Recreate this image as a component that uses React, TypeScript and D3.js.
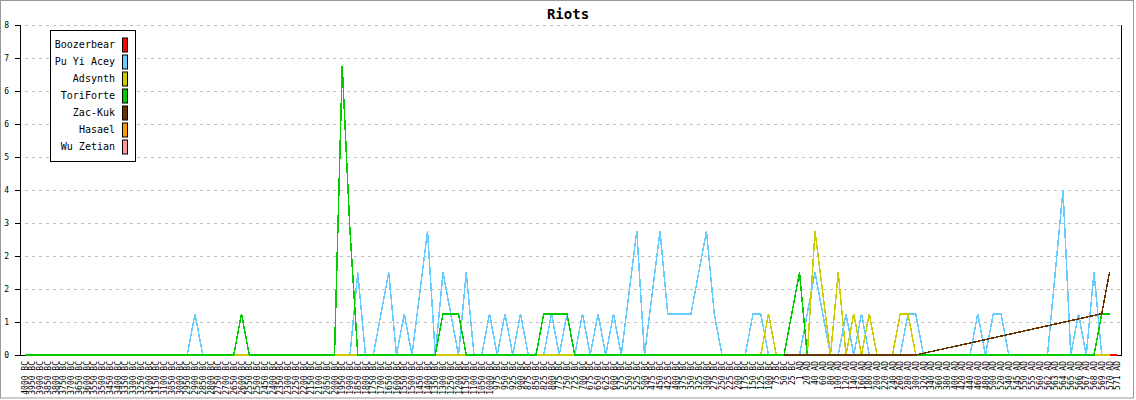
import React from "react";
import * as d3 from "d3";

const categories: string[] = [
  "4000 BC","3950 BC","3900 BC","3850 BC","3800 BC","3750 BC","3700 BC","3650 BC","3600 BC","3550 BC",
  "3500 BC","3450 BC","3400 BC","3350 BC","3300 BC","3250 BC","3200 BC","3150 BC","3100 BC","3050 BC",
  "3000 BC","2950 BC","2900 BC","2850 BC","2800 BC","2750 BC","2700 BC","2650 BC","2600 BC","2550 BC",
  "2500 BC","2450 BC","2400 BC","2350 BC","2300 BC","2250 BC","2200 BC","2150 BC","2100 BC","2050 BC",
  "2000 BC","1950 BC","1900 BC","1850 BC","1800 BC","1750 BC","1700 BC","1650 BC","1600 BC","1550 BC",
  "1500 BC","1450 BC","1400 BC","1350 BC","1300 BC","1250 BC","1200 BC","1150 BC","1100 BC","1050 BC",
  "1000 BC","975 BC","950 BC","925 BC","900 BC","875 BC","850 BC","825 BC","800 BC","775 BC",
  "750 BC","725 BC","700 BC","675 BC","650 BC","625 BC","600 BC","575 BC","550 BC","525 BC",
  "500 BC","475 BC","450 BC","425 BC","400 BC","375 BC","350 BC","325 BC","300 BC","275 BC",
  "250 BC","225 BC","200 BC","175 BC","150 BC","125 BC","100 BC","75 BC","50 BC","25 BC",
  "1 AD","20 AD","40 AD","60 AD","80 AD","100 AD","120 AD","140 AD","160 AD","180 AD",
  "200 AD","220 AD","240 AD","260 AD","280 AD","300 AD","320 AD","340 AD","360 AD","380 AD",
  "400 AD","420 AD","440 AD","460 AD","480 AD","500 AD","520 AD","540 AD","545 AD","550 AD",
  "555 AD","560 AD","562 AD","563 AD","564 AD","565 AD","566 AD","567 AD","568 AD","569 AD",
  "570 AD","571 AD"
];

const N = null;

// index:            0 .. 141
const boozerbear: (number | null)[] = [
  N,N,N,N,N,N,N,N,N,N, N,N,N,N,N,N,N,N,N,N, N,N,N,N,N,N,N,N,N,N, N,N,N,N,N,N,N,N,N,N,
  N,N,N,N,N,N,N,N,N,N, N,N,N,N,N,N,N,N,N,N, N,N,N,N,N,N,N,N,N,N, N,N,N,N,N,N,N,N,N,N,
  N,N,N,N,N,N,N,N,N,N, N,N,N,N,N,N,N,N,N,N, N,N,N,N,N,N,N,N,N,N, N,N,N,N,N,N,N,N,N,N,
  N,N,N,N,N,N,N,N,N,N, N,N,N,N,N,N,N,N,N,N, 0,0
];

const puYiAcey: (number | null)[] = [
  0,0,0,0,0,0,0,0,0,0, 0,0,0,0,0,0,0,0,0,0, 0,0,1,0,0,0,0,0,0,0, 0,0,0,0,0,0,0,0,0,0,
  0,0,0,2,0,0,1,2,0,1, 0,1.5,3,0,2,1,0,2,0,0, 1,0,1,0,1,0,0,0,1,0, 1,0,1,0,1,0,1,0,1.5,3,
  0,1.5,3,1,1,1,1,2,3,1, 0,0,0,0,1,1,0,0,0,0, 0,1,2,1,0,0,1,0,1,0, 0,0,0,0,1,1,0,0,0,0,
  0,0,0,1,0,1,1,0,0,0, 0,0,0,2,4,0,1,0,2,0, 0,N
];

const adsynth: (number | null)[] = [
  0,0,0,0,0,0,0,0,0,0, 0,0,0,0,0,0,0,0,0,0, 0,0,0,0,0,0,0,0,0,0, 0,0,0,0,0,0,0,0,0,0,
  0,0,0,0,0,0,0,0,0,0, 0,0,0,0,0,0,0,0,0,0, 0,0,0,0,0,0,0,0,0,0, 0,0,0,0,0,0,0,0,0,0,
  0,0,0,0,0,0,0,0,0,0, 0,0,0,0,0,0,1,0,0,0, 0,0,3,1.5,0,2,0,1,0,1, 0,0,0,1,1,0,0,0,0,0,
  0,0,0,0,0,0,0,0,0,0, 0,0,0,0,0,0,0,0,0,0, 0,N
];

const toriForte: (number | null)[] = [
  0,0,0,0,0,0,0,0,0,0, 0,0,0,0,0,0,0,0,0,0, 0,0,0,0,0,0,0,0,1,0, 0,0,0,0,0,0,0,0,0,0,
  0,7,3,0,0,0,0,0,0,0, 0,0,0,0,1,1,1,0,0,0, 0,0,0,0,0,0,0,1,1,1, 1,0,0,0,0,0,0,0,0,0,
  0,0,0,0,0,0,0,0,0,0, 0,0,0,0,0,0,0,0,0,1, 2,0,0,0,0,0,0,0,0,0, 0,0,0,0,0,0,0,0,0,0,
  0,0,0,0,0,0,0,0,0,0, 0,0,0,0,0,0,0,0,0,1, 1,N
];

const zacKuk: (number | null)[] = [
  N,N,N,N,N,N,N,N,N,N, N,N,N,N,N,N,N,N,N,N, N,N,N,N,N,N,N,N,N,N, N,N,N,N,N,N,N,N,N,N,
  N,N,N,N,N,N,N,N,N,N, N,N,N,N,N,N,N,N,N,N, N,N,N,N,N,N,N,N,N,N, N,N,N,N,N,N,N,N,N,N,
  N,N,N,N,N,N,N,N,N,N, N,N,N,N,N,N,N,N,0,0, 0,0,0,0,0,0,0,0,0,0, 0,0,0,0,0,0,N,N,N,N,
  N,N,N,N,N,N,N,N,N,N, N,N,N,N,N,N,N,N,N,1, 2,N
];

const hasael: (number | null)[] = categories.map(() => null);
const wuZetian: (number | null)[] = categories.map(() => null);

const seriesNames = ["Boozerbear", "Pu Yi Acey", "Adsynth", "ToriForte", "Zac-Kuk", "Hasael", "Wu Zetian"];
const seriesColors = ["#ff0000", "#66ccff", "#cccc00", "#00cc00", "#663300", "#ff9900", "#ff9999"];
const seriesValues = [boozerbear, puYiAcey, adsynth, toriForte, zacKuk, hasael, wuZetian];

const yTickValues = [0, 0.8, 1.6, 2.4, 3.2, 4, 4.8, 5.6, 6.4, 7.2, 8];
const yTickLabels = ["0", "1", "2", "2", "3", "4", "5", "6", "6", "7", "8"];

const title = "Riots";

const W = 1136;
const H = 400;
const plotLeft = 20;
const plotRight = 1121;
const plotTop = 25;
const plotBottom = 355;
const mono = "'DejaVu Sans Mono', 'Liberation Mono', monospace";

export default function App() {
  const x = d3
    .scalePoint<string>()
    .domain(categories)
    .range([24.5, 24.5 + (categories.length - 1) * 7.75]);
  const y = d3.scaleLinear().domain([0, 8]).range([plotBottom, plotTop]);

  const line = d3
    .line<number | null>()
    .defined((d) => d != null)
    .x((_, i) => x(categories[i]) as number)
    .y((d) => y(d as number));

  // compact out missing points so line joins across gaps
  const makePath = (vals: (number | null)[]) => {
    const pts: [number, number][] = [];
    vals.forEach((v, i) => {
      if (v != null) pts.push([x(categories[i]) as number, y(v)]);
    });
    if (pts.length < 2) return "";
    return d3.line()(pts) || "";
  };
  void line;

  const legendX = 50;
  const legendY = 30;
  const legendW = 85;
  const legendH = 131;

  return (
    <svg
      width={W}
      height={H}
      style={{ position: "absolute", left: 0, top: 0, background: "#fff" }}
    >
      <rect x={0} y={0} width={W} height={H} fill="#fff" />
      <rect x={0.5} y={0.5} width={1133} height={397.5} fill="none" stroke="#999" />
      <text
        x={568}
        y={19}
        textAnchor="middle"
        fontFamily={mono}
        fontWeight="bold"
        fontSize={14}
        fill="#000"
      >
        {title}
      </text>

      {/* grid */}
      {yTickValues.map((v, i) =>
        v === 0 ? null : (
          <line
            key={"g" + i}
            x1={plotLeft + 5}
            x2={plotRight}
            y1={Math.round(y(v)) + 0.5}
            y2={Math.round(y(v)) + 0.5}
            stroke="#c0c0c0"
            strokeDasharray="3,4"
          />
        )
      )}

      {/* axes */}
      <line x1={plotLeft + 0.5} x2={plotLeft + 0.5} y1={plotTop} y2={plotBottom + 1} stroke="#000" />
      <line x1={plotLeft} x2={plotRight + 1} y1={plotBottom + 0.5} y2={plotBottom + 0.5} stroke="#000" />
      <line x1={plotRight + 0.5} x2={plotRight + 0.5} y1={plotTop} y2={plotBottom + 1} stroke="#000" />

      {yTickValues.map((v, i) => (
        <g key={"t" + i}>
          <line
            x1={15}
            x2={plotLeft}
            y1={Math.round(y(v)) + 0.5}
            y2={Math.round(y(v)) + 0.5}
            stroke="#000"
          />
          <text
            x={9}
            y={Math.round(y(v)) + 3}
            textAnchor="end"
            fontFamily={mono}
            fontSize={8}
            fill="#000"
          >
            {yTickLabels[i]}
          </text>
        </g>
      ))}

      {categories.map((c) => {
        const cx = x(c) as number;
        return (
          <text
            key={c}
            transform={`translate(${cx + 3},${361}) rotate(-90)`}
            textAnchor="end"
            fontFamily={mono}
            fontSize={8}
            fill="#000"
          >
            {c}
          </text>
        );
      })}

      {/* series */}
      {seriesValues.map((vals, si) => (
        <path
          key={seriesNames[si]}
          d={makePath(vals)}
          fill="none"
          stroke={seriesColors[si]}
          strokeWidth={1.5}
          shapeRendering="crispEdges"
        />
      ))}

      {/* legend */}
      <rect
        x={legendX + 0.5}
        y={legendY + 0.5}
        width={legendW}
        height={legendH}
        fill="#fff"
        stroke="#000"
      />
      {seriesNames.map((n, i) => {
        const cy = 45 + i * 17;
        return (
          <g key={"l" + n}>
            <text
              x={115}
              y={cy + 3}
              textAnchor="end"
              fontFamily={mono}
              fontSize={10}
              fill="#000"
            >
              {n}
            </text>
            <rect
              x={122.5}
              y={cy - 7}
              width={5}
              height={14}
              fill={seriesColors[i]}
              stroke="#000"
            />
          </g>
        );
      })}
    </svg>
  );
}
